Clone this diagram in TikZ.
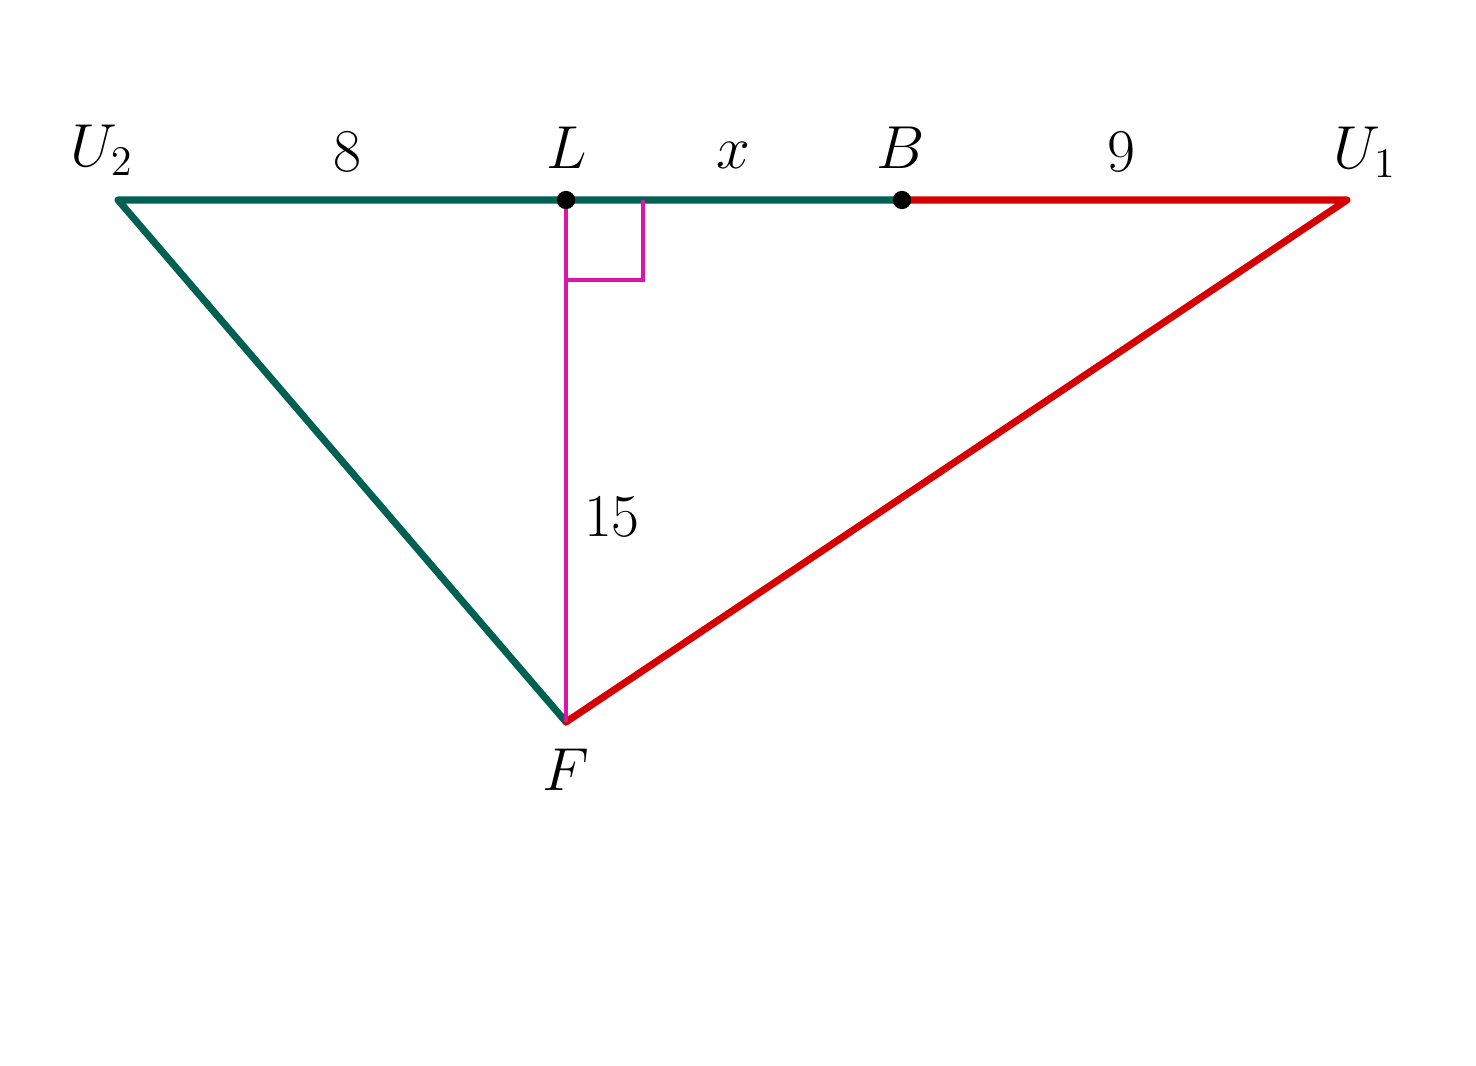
\documentclass[tikz,border=0pt]{standalone}
\usepackage{amsmath}
\usepackage{tikz}

\begin{document}
\begin{tikzpicture}[x=1cm, y=1cm]
    % Styles
    \definecolor{tealgreen}{RGB}{0,96,82}
    \definecolor{sidered}{RGB}{215,0,0}
    \definecolor{altmag}{RGB}{220,20,170}
    \tikzstyle{side} = [line width=2pt, line cap=round, line join=round]
    \tikzstyle{tag} = [font=\fontsize{17.5}{21}\selectfont, inner sep=0pt]
    \tikzstyle{pt} = [circle, fill=black, inner sep=0pt, minimum size=5.2pt]

    \useasboundingbox (0,0) rectangle (14.76,10.65);

    % Points
    \coordinate (U2) at (1.18, 8.65);
    \coordinate (L) at (5.66, 8.65);
    \coordinate (B) at (9.02, 8.65);
    \coordinate (U1) at (13.47, 8.65);
    \coordinate (F) at (5.66, 3.43);

    % Sides
    \draw[side, tealgreen] (B) -- (U2) -- (F);
    \draw[side, sidered] (B) -- (U1) -- (F);
    \draw[line width=1.3pt, altmag] (L) -- (F);
    \draw[line width=0.9pt, altmag] ([xshift=0.77cm]L) |- ([yshift=-0.8cm]L);

    % Dots
    \node[pt] (dotL) at (L) {};
    \node[pt] (dotB) at (B) {};

    % Labels
    \node[tag] (tU2) at (1.02, 9.15) {$U_2$};
    \node[tag] (tL) at (5.67, 9.17) {$L$};
    \node[tag] (tB) at (9.01, 9.17) {$B$};
    \node[tag] (tU1) at (13.65, 9.13) {$U_1$};
    \node[tag] (tF) at (5.66, 2.95) {$F$};
    \node[tag] (t8) at (3.47, 9.13) {$8$};
    \node[tag] (tx) at (7.33, 9.10) {$x$};
    \node[tag] (t9) at (11.21, 9.13) {$9$};
    \node[tag] (t15) at (6.12, 5.48) {$15$};
\end{tikzpicture}
\end{document}
